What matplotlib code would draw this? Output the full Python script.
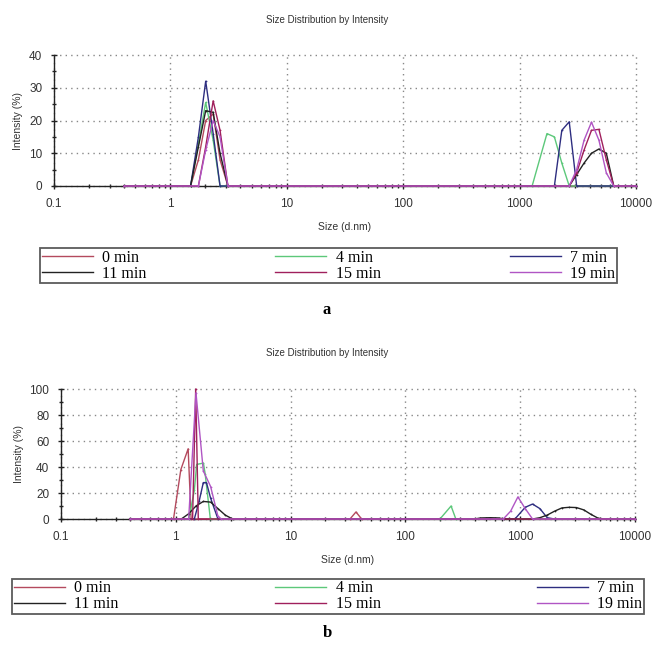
import matplotlib
matplotlib.use("Agg")
import matplotlib.pyplot as plt
from matplotlib.ticker import LogLocator, MultipleLocator, FixedLocator, NullFormatter
from matplotlib.lines import Line2D

# ---------------- data ----------------
labels = ["0 min", "4 min", "7 min", "11 min", "15 min", "19 min"]
colors = ["#b44a5e", "#5cc87a", "#2e2e80", "#222222", "#a0205c", "#b055c4"]

xticks = [0.1, 1, 10, 100, 1000, 10000]
xticklabels = ["0.1", "1", "10", "100", "1000", "10000"]

# panel a
a_0_x = [1.49, 1.74, 2.01, 2.33, 2.67, 3.12]
a_0_y = [0, 8, 20, 22, 8, 0]
a_4_x = [1.49, 1.74, 2.01, 2.33, 2.67, 1281, 1718, 1990, 2305, 2669]
a_4_y = [0, 13, 25.5, 14, 0, 0, 16, 15, 7, 0]
a_7_x = [1.49, 1.74, 2.01, 2.33, 2.67, 1990, 2305, 2669, 3091]
a_7_y = [0, 15, 32, 16, 0, 0, 17, 19.6, 0]
a_11_x = [1.49, 1.74, 2.01, 2.33, 2.67, 3.12, 2669, 3091, 3580, 4145, 4801, 5560, 6439]
a_11_y = [0, 12, 23, 22.5, 10, 0, 0, 3.5, 7, 10, 11.3, 10, 0]
a_15_x = [1.74, 2.01, 2.33, 2.67, 3.12, 2669, 3091, 3580, 4145, 4801, 5560, 6439]
a_15_y = [0, 12, 26, 17, 0, 0, 4, 11, 17, 17.3, 8, 0]
a_19_x = [1.74, 2.01, 2.33, 2.67, 3.12, 2669, 3091, 3580, 4145, 4801, 5560, 6439]
a_19_y = [0, 11, 20, 15, 0, 0, 5, 14, 19.5, 14, 4, 0]

# panel b
b_0_x = [0.955, 1.106, 1.281, 1.36, 32.9, 37.1, 41.6]
b_0_y = [0, 38, 54, 0, 0, 5.4, 0]
b_4_x = [1.30, 1.45, 1.52, 1.74, 1.80, 2.0, 200, 250, 275]
b_4_y = [0, 22, 42, 43, 35, 0, 0, 10, 0]
b_7_x = [1.45, 1.6, 1.736, 1.85, 2.01, 2.33, 900, 1106, 1281, 1484, 1718, 1990]
b_7_y = [0, 14, 28, 28, 16, 0, 0, 9, 11.5, 8, 1, 0]
b_11_x = [1.117, 1.294, 1.499, 1.736, 2.01, 2.33, 2.696, 3.122,
          400, 450, 550, 650, 720,
          1281, 1484, 1718, 1990, 2305, 2669, 3091, 3580, 4145, 4801, 5560]
b_11_y = [0, 4, 10, 13.5, 13, 8, 3, 0,
          0, 0.8, 1, 0.8, 0,
          0, 1, 3, 6, 8.5, 9, 8.8, 7, 3.5, 0.5, 0]
b_15_x = [1.40, 1.49, 1.57]
b_15_y = [0, 100, 0]
b_19_x = [1.294, 1.499, 1.736, 2.01, 2.33, 2.5, 712, 825, 955, 1106, 1281]
b_19_y = [0, 97, 37, 25, 2, 0, 0, 6, 17, 8, 0]

panel_a = [(a_0_x, a_0_y), (a_4_x, a_4_y), (a_7_x, a_7_y),
           (a_11_x, a_11_y), (a_15_x, a_15_y), (a_19_x, a_19_y)]
panel_b = [(b_0_x, b_0_y), (b_4_x, b_4_y), (b_7_x, b_7_y),
           (b_11_x, b_11_y), (b_15_x, b_15_y), (b_19_x, b_19_y)]

X_START, X_END = 0.4, 10000

# ---------------- figure ----------------
W, H = 654, 647
fig = plt.figure(figsize=(W / 100, H / 100), dpi=100)
fig.patch.set_facecolor("white")


def px_rect(l, t, r, b):
    return [l / W, 1 - b / H, (r - l) / W, (b - t) / H]


def style_axes(ax, ymax, ystep, yminor):
    ax.set_xscale("log")
    ax.set_xlim(0.1, 10000)
    ax.set_ylim(0, ymax)
    ax.xaxis.set_major_locator(FixedLocator(xticks))
    ax.set_xticks(xticks)
    ax.set_xticklabels(xticklabels)
    ax.xaxis.set_minor_locator(LogLocator(base=10, subs=[2, 3, 4, 5, 6, 7, 8, 9]))
    ax.xaxis.set_minor_formatter(NullFormatter())
    ax.yaxis.set_major_locator(MultipleLocator(ystep))
    ax.yaxis.set_minor_locator(MultipleLocator(yminor))
    for s in ["top", "right"]:
        ax.spines[s].set_visible(False)
    for s in ["left", "bottom"]:
        ax.spines[s].set_color("#222222")
        ax.spines[s].set_linewidth(1.0)
    ax.tick_params(axis="both", which="major", direction="inout", length=5,
                   width=1, color="#222222", labelsize=8.5, labelcolor="#333333",
                   pad=6)
    ax.tick_params(axis="both", which="minor", direction="inout", length=3,
                   width=1, color="#222222")
    ax.grid(True, which="major", color="#888888", linestyle=(0, (1, 3)), linewidth=1)
    for gl in ax.get_xgridlines() + ax.get_ygridlines():
        gl.set_clip_on(False)
    ax.set_axisbelow(True)
    for lab in ax.get_xticklabels() + ax.get_yticklabels():
        lab.set_family("Liberation Sans")
    ax.set_xlabel("Size (d.nm)", fontsize=7.5, color="#333333", family="Liberation Sans",
                  labelpad=9)
    ax.set_ylabel("Intensity (%)", fontsize=7.5, color="#333333", family="Liberation Sans",
                  labelpad=4)


def draw(ax, panel):
    handles = []
    for (x, y), c, lab in zip(panel, colors, labels):
        xs = [X_START] + list(x) + [X_END]
        ys = [0] + list(y) + [0]
        h, = ax.plot(xs, ys, color=c, lw=1.0, marker="o", ms=1.3, mew=0, label=lab,
                     clip_on=False, zorder=3)
        handles.append(h)
    return handles


ax1 = fig.add_axes(px_rect(54, 55, 636, 186))
style_axes(ax1, 40, 10, 5)
h1 = draw(ax1, panel_a)

ax2 = fig.add_axes(px_rect(61, 389, 635, 519))
style_axes(ax2, 100, 20, 10)
h2 = draw(ax2, panel_b)

for ax, ty in [(ax1, 20), (ax2, 353)]:
    fig.text(0.5, 1 - ty / H, "Size Distribution by Intensity", ha="center", va="center",
             fontsize=7, color="#333333", family="Liberation Sans")


def make_legend(handles, l, t, r, b):
    order = [0, 3, 1, 4, 2, 5]
    hs = [Line2D([0], [0], color=handles[i].get_color(), lw=1.0) for i in order]
    ls = [labels[i] for i in order]
    leg = fig.legend(hs, ls, loc="center", ncol=3, mode="expand",
                     bbox_to_anchor=((l) / W, 1 - b / H, (r - l) / W, (b - t) / H),
                     bbox_transform=fig.transFigure,
                     prop={"family": "Liberation Serif", "size": 11.5},
                     handlelength=3.2, handletextpad=0.6, labelspacing=0.0,
                     borderpad=0.1, borderaxespad=0, fancybox=False,
                     frameon=True, edgecolor="#333333")
    leg.get_frame().set_linewidth(1.3)
    return leg


make_legend(h1, 40, 247, 617, 284)
make_legend(h2, 12, 578, 644, 615)

fig.text(0.5, 1 - 310 / H, "a", ha="center", va="center", fontsize=12,
         fontweight="bold", family="Liberation Serif")
fig.text(0.5, 1 - 633 / H, "b", ha="center", va="center", fontsize=12,
         fontweight="bold", family="Liberation Serif")

fig.savefig("out.png", dpi=100, facecolor="white")
